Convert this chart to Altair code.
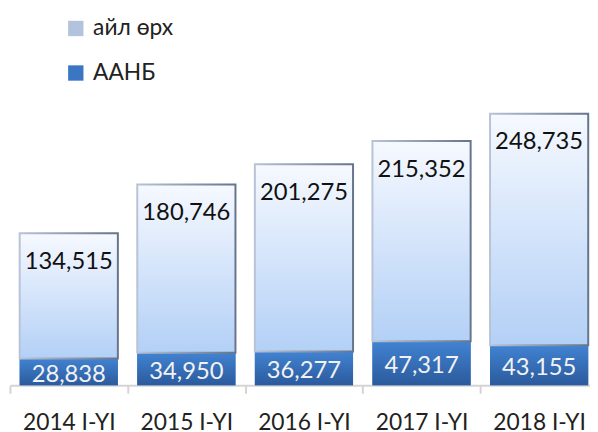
import altair as alt
import pandas as pd
import json

years = ["2014 I-YI", "2015 I-YI", "2016 I-YI", "2017 I-YI", "2018 I-YI"]
aanb = [28838, 34950, 36277, 47317, 43155]
ail = [134515, 180746, 201275, 215352, 248735]
series_names = ["айл өрх", "ААНБ"]

rows = []
for i, (yr, a, h) in enumerate(zip(years, aanb, ail)):
    rows.append({"idx": i, "year": yr, "series": "ААНБ", "start": 0, "end": a, "value": a, "mid": a / 2})
    rows.append({"idx": i, "year": yr, "series": "айл өрх", "start": a, "end": a + h, "value": h, "mid": a + h / 2})
df = pd.DataFrame(rows)

FONT = "Lato"
W = 586
BAND_PX = 118.8
HALF = 0.4175

xs = alt.Scale(domain=[-0.5, -0.5 + W / BAND_PX], nice=False, zero=False)
tick_vals = [k / 2 - 0.5 for k in range(11)]
label_expr = "datum.value % 1 === 0 ? " + json.dumps(years, ensure_ascii=False) + "[datum.value] : ''"
x_axis = alt.Axis(
    title=None, values=tick_vals, labelExpr=label_expr, labelAngle=0,
    labelOverlap=False, labelBound=False, grid=False,
    domainColor="#d4d4d4", domainWidth=2,
    tickColor={"condition": {"test": "datum.value % 1 === 0", "value": "transparent"}, "value": "#d4d4d4"},
    tickWidth=2, tickSize=8,
    labelFont=FONT, labelFontSize=23, labelColor="#222222", labelPadding=19,
)


def X(field):
    return alt.X(field, type="quantitative", scale=xs, axis=x_axis)


y_scale = alt.Scale(domain=[0, 300000], nice=False)


def Y(field):
    return alt.Y(field, type="quantitative", scale=y_scale, axis=None)


base = alt.Chart(df).transform_calculate(
    x0=alt.datum.idx - HALF, x1=alt.datum.idx + HALF
)

legend_bars = base.mark_bar().encode(
    x=X("x0"), x2="x1:Q",
    y=Y("start"), y2="end:Q",
    color=alt.Color(
        "series:N",
        scale=alt.Scale(domain=series_names, range=["#b3c3dd", "#3a76c2"]),
        legend=alt.Legend(
            title=None, orient="none", legendX=55, legendY=-90, direction="vertical",
            symbolType="square", symbolSize=240, symbolStrokeWidth=0,
            labelFont=FONT, labelFontSize=23, labelColor="#222222",
            rowPadding=21, labelOffset=6, padding=0,
        ),
    ),
)

top_fill = alt.LinearGradient(
    gradient="linear", x1=0, y1=0, x2=0, y2=1,
    stops=[alt.GradientStop(offset=0, color="#f6f9ff"),
           alt.GradientStop(offset=1, color="#b3d0f6")],
)
top_stroke = alt.LinearGradient(
    gradient="linear", x1=0, y1=0, x2=1, y2=0,
    stops=[alt.GradientStop(offset=0, color="#b8c3d6"),
           alt.GradientStop(offset=1, color="#66748c")],
)
bot_fill = alt.LinearGradient(
    gradient="linear", x1=0, y1=0, x2=0, y2=1,
    stops=[alt.GradientStop(offset=0, color="#4183d2"),
           alt.GradientStop(offset=1, color="#2b5a9c")],
)

top_bars = base.transform_filter(alt.datum.series == "айл өрх").mark_bar(
    fill=top_fill, stroke=top_stroke, strokeWidth=2
).encode(x=X("x0"), x2="x1:Q", y=Y("start"), y2="end:Q")

bot_bars = base.transform_filter(alt.datum.series == "ААНБ").mark_bar(
    fill=bot_fill
).encode(x=X("x0"), x2="x1:Q", y=Y("start"), y2="end:Q")

top_text = base.transform_filter(alt.datum.series == "айл өрх").mark_text(
    font=FONT, fontSize=24, color="#111111", baseline="middle", dy=29
).encode(x=X("idx"), y=Y("end"), text=alt.Text("value:Q", format=","))

bot_text = base.transform_filter(alt.datum.series == "ААНБ").mark_text(
    font=FONT, fontSize=24, color="#f2f2f2", baseline="middle", dy=3
).encode(x=X("idx"), y=Y("mid"), text=alt.Text("value:Q", format=","))

chart = alt.layer(legend_bars, bot_bars, top_bars, top_text, bot_text).properties(
    width=W, height=282,
    autosize=alt.AutoSizeParams(type="none"),
    padding={"left": 2, "top": 97, "right": 0, "bottom": 45},
).configure_view(stroke=None)

chart.save("out.html", embed_options={"renderer": "svg", "actions": False})
